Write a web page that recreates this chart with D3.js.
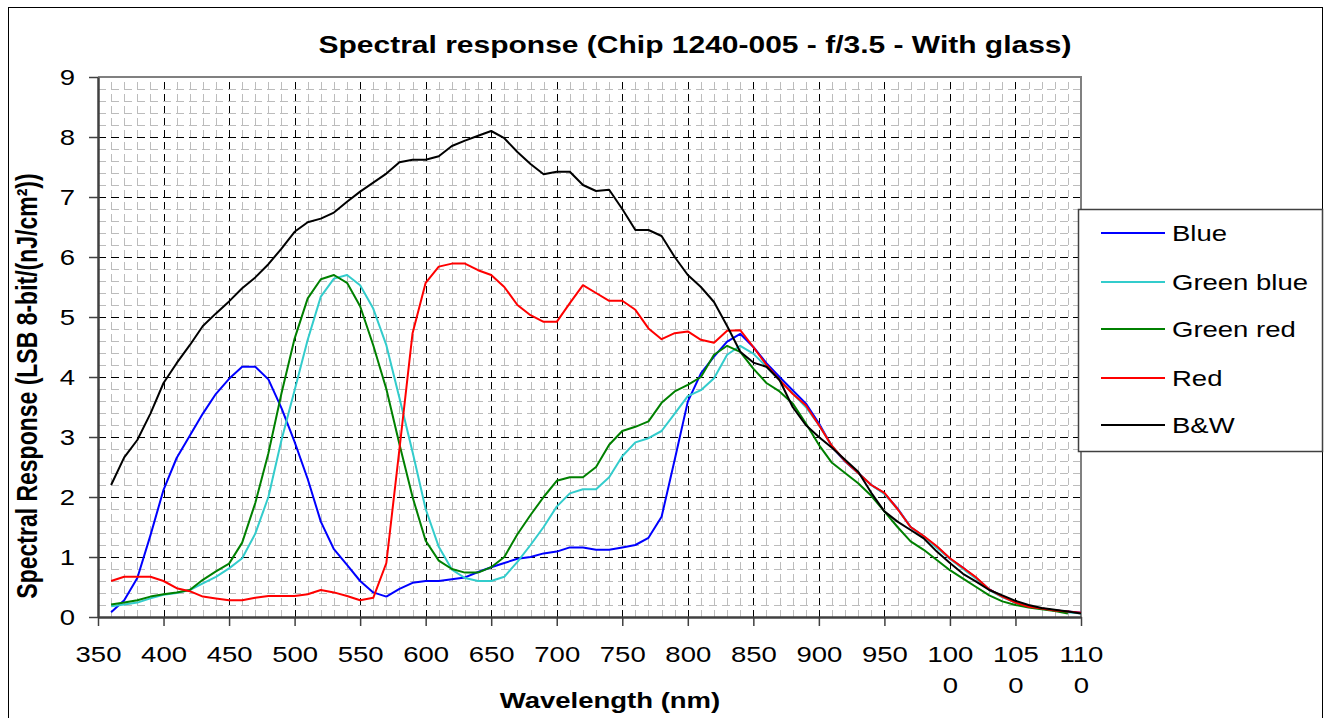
<!DOCTYPE html>
<html>
<head>
<meta charset="utf-8">
<script src="https://cdnjs.cloudflare.com/ajax/libs/d3/7.8.5/d3.min.js"></script>
<style>
  body { margin: 0; background: #fff; }
  text { font-family: "Liberation Sans", Arial, sans-serif; fill: #000; }
</style>
</head>
<body>
<script>
// wavelength (nm) every 10 nm
var wavelengths = [360, 370, 380, 390, 400, 410, 420, 430, 440, 450,
  460, 470, 480, 490, 500, 510, 520, 530, 540, 550,
  560, 570, 580, 590, 600, 610, 620, 630, 640, 650,
  660, 670, 680, 690, 700, 710, 720, 730, 740, 750,
  760, 770, 780, 790, 800, 810, 820, 830, 840, 850,
  860, 870, 880, 890, 900, 910, 920, 930, 940, 950,
  960, 970, 980, 990, 1000, 1010, 1020, 1030, 1040, 1050,
  1060, 1070, 1080, 1090, 1100];

var blue = [0.08, 0.28, 0.65, 1.36, 2.12, 2.65, 3.02, 3.39, 3.72, 3.97,
  4.17, 4.17, 3.96, 3.48, 2.92, 2.3, 1.59, 1.13, 0.87, 0.6,
  0.41, 0.34, 0.47, 0.57, 0.6, 0.6, 0.63, 0.66, 0.75, 0.83,
  0.9, 0.97, 1.0, 1.06, 1.09, 1.16, 1.16, 1.12, 1.12, 1.16,
  1.2, 1.32, 1.67, 2.62, 3.59, 4.06, 4.34, 4.59, 4.72, 4.5,
  4.23, 4.0, 3.78, 3.56, 3.23, 2.84, 2.59, 2.4, 2.2, 2.06,
  1.81, 1.5, 1.34, 1.17, 0.97, 0.82, 0.65, 0.46, 0.34, 0.24,
  0.17, 0.14, 0.11, 0.09, 0.07];

var greenBlue = [0.18, 0.21, 0.24, 0.31, 0.37, 0.4, 0.45, 0.56, 0.67, 0.81,
  0.98, 1.39, 2.0, 2.95, 3.78, 4.62, 5.34, 5.64, 5.7, 5.53,
  5.14, 4.53, 3.65, 2.75, 1.8, 1.17, 0.79, 0.65, 0.6, 0.6,
  0.67, 0.92, 1.2, 1.5, 1.84, 2.06, 2.13, 2.13, 2.33, 2.68,
  2.91, 2.98, 3.1, 3.39, 3.68, 3.78, 3.98, 4.37, 4.52, 4.39,
  4.17, 3.95, 3.73, 3.5, 3.2, 2.85, 2.6, 2.4, 2.2, 2.05,
  1.8, 1.5, 1.34, 1.15, 0.97, 0.8, 0.64, 0.45, 0.33, 0.24,
  0.18, 0.14, 0.11, 0.08, 0.06];

var greenRed = [0.21, 0.24, 0.28, 0.34, 0.38, 0.41, 0.45, 0.62, 0.76, 0.89,
  1.24, 1.9, 2.73, 3.73, 4.64, 5.31, 5.63, 5.7, 5.57, 5.18,
  4.53, 3.8, 2.88, 2.0, 1.27, 0.94, 0.8, 0.74, 0.74, 0.83,
  1.0, 1.38, 1.7, 2.0, 2.27, 2.33, 2.33, 2.5, 2.87, 3.1,
  3.17, 3.26, 3.57, 3.76, 3.87, 4.0, 4.37, 4.52, 4.42, 4.14,
  3.9, 3.76, 3.56, 3.23, 2.87, 2.57, 2.4, 2.23, 2.02, 1.76,
  1.5, 1.26, 1.12, 0.95, 0.78, 0.64, 0.5, 0.36, 0.26, 0.2,
  0.16, 0.13, 0.1, 0.06, null];

var red = [0.6, 0.67, 0.67, 0.67, 0.6, 0.48, 0.43, 0.34, 0.31, 0.28,
  0.28, 0.32, 0.35, 0.35, 0.35, 0.38, 0.45, 0.41, 0.35, 0.28,
  0.32, 0.9, 2.8, 4.73, 5.57, 5.84, 5.89, 5.89, 5.78, 5.7,
  5.5, 5.2, 5.03, 4.92, 4.92, 5.23, 5.53, 5.4, 5.27, 5.27,
  5.12, 4.81, 4.63, 4.73, 4.76, 4.62, 4.57, 4.77, 4.78, 4.5,
  4.2, 3.95, 3.72, 3.53, 3.2, 2.85, 2.6, 2.4, 2.2, 2.07,
  1.8, 1.5, 1.35, 1.18, 0.98, 0.82, 0.66, 0.46, 0.34, 0.24,
  0.17, 0.14, 0.11, 0.09, 0.07];

var bw = [2.2, 2.66, 2.95, 3.39, 3.9, 4.23, 4.53, 4.85, 5.06, 5.26,
  5.48, 5.66, 5.88, 6.14, 6.42, 6.58, 6.64, 6.74, 6.92, 7.09,
  7.24, 7.39, 7.58, 7.62, 7.62, 7.68, 7.85, 7.94, 8.02, 8.1,
  7.98, 7.75, 7.55, 7.38, 7.42, 7.42, 7.2, 7.1, 7.12, 6.8,
  6.45, 6.45, 6.35, 6.0, 5.7, 5.5, 5.25, 4.85, 4.42, 4.24,
  4.17, 3.95, 3.5, 3.2, 3.0, 2.82, 2.62, 2.42, 2.07, 1.76,
  1.59, 1.45, 1.31, 1.09, 0.9, 0.72, 0.59, 0.45, 0.36, 0.27,
  0.2, 0.15, 0.12, 0.09, 0.06];

var seriesNames = ["Blue", "Green blue", "Green red", "Red", "B&W"];
var seriesValues = [blue, greenBlue, greenRed, red, bw];
var seriesColors = ["#0000ff", "#33cccc", "#008000", "#ff0000", "#000000"];

var xTickValues = [350, 400, 450, 500, 550, 600, 650, 700, 750, 800, 850, 900, 950, 1000, 1050, 1100];
var yTickValues = [0, 1, 2, 3, 4, 5, 6, 7, 8, 9];

var titleText = "Spectral response (Chip 1240-005 - f/3.5 - With glass)";
var xTitle = "Wavelength (nm)";
var yTitle = "Spectral Response (LSB 8-bit/(nJ/cm²))";

// the original picture is stretched sideways, text too
var SX = 1.25;

var svg = d3.select("body").append("svg")
  .attr("width", 1326)
  .attr("height", 718);

var x = d3.scaleLinear().domain([350, 1100]).range([98, 1081]);
var y = d3.scaleLinear().domain([0, 9]).range([617, 77]);

// outer chart frame
svg.append("rect")
  .attr("x", 8.5).attr("y", 7.5)
  .attr("width", 1314).attr("height", 730)
  .attr("fill", "none")
  .attr("stroke", "#000")
  .attr("stroke-width", 1);

// minor grid
var minorX = d3.range(360, 1100, 10).filter(function (d) { return d % 50 !== 0; });
var minorY = d3.range(1, 45).map(function (d) { return d / 5; }).filter(function (d, i) { return (i + 1) % 5 !== 0; });

svg.append("g").selectAll("line")
  .data(minorX).enter().append("line")
  .attr("x1", function (d) { return Math.round(x(d)) + 0.5; })
  .attr("x2", function (d) { return Math.round(x(d)) + 0.5; })
  .attr("y1", y(0)).attr("y2", y(9))
  .attr("stroke", "#bcbcbc")
  .attr("stroke-dasharray", "7,5");

svg.append("g").selectAll("line")
  .data(minorY).enter().append("line")
  .attr("y1", function (d) { return Math.round(y(d)) + 0.5; })
  .attr("y2", function (d) { return Math.round(y(d)) + 0.5; })
  .attr("x1", x(350)).attr("x2", x(1100))
  .attr("stroke", "#bcbcbc")
  .attr("stroke-dasharray", "8,5");

// major grid
svg.append("g").selectAll("line")
  .data(xTickValues.slice(1, -1)).enter().append("line")
  .attr("x1", function (d) { return Math.round(x(d)) + 0.5; })
  .attr("x2", function (d) { return Math.round(x(d)) + 0.5; })
  .attr("y1", y(0)).attr("y2", y(9))
  .attr("stroke", "#000")
  .attr("stroke-dasharray", "7,5");

svg.append("g").selectAll("line")
  .data(yTickValues.slice(1, -1)).enter().append("line")
  .attr("y1", function (d) { return Math.round(y(d)) + 0.5; })
  .attr("y2", function (d) { return Math.round(y(d)) + 0.5; })
  .attr("x1", x(350)).attr("x2", x(1100))
  .attr("stroke", "#000")
  .attr("stroke-dasharray", "8,5");

// top and right plot border
svg.append("path")
  .attr("d", "M" + x(350) + "," + y(9) + "H" + x(1100) + "V" + y(0))
  .attr("fill", "none")
  .attr("stroke", "#808080")
  .attr("stroke-width", 2);

// axes
var xAxis = d3.axisBottom(x).tickValues(xTickValues).tickSize(9).tickSizeOuter(0).tickFormat(d3.format("d"));
var yAxis = d3.axisLeft(y).tickValues(yTickValues).tickSize(9).tickSizeOuter(0).tickFormat(d3.format("d"));

var gx = svg.append("g").attr("transform", "translate(0," + y(0) + ")").call(xAxis);
var gy = svg.append("g").attr("transform", "translate(" + x(350) + ",0)").call(yAxis);

[gx, gy].forEach(function (g) {
  g.select(".domain").attr("stroke", "#404040").attr("stroke-width", 2.5);
  g.selectAll(".tick line").attr("stroke", "#404040").attr("stroke-width", 1.5);
  g.selectAll(".tick text")
    .attr("font-family", "Liberation Sans, Arial, sans-serif")
    .attr("font-size", 22)
    .attr("fill", "#000");
});

gx.selectAll(".tick text")
  .attr("y", 0).attr("dy", null)
  .attr("transform", "translate(0,45) scale(" + SX + ",1)")
  .each(function (d) {
    var s = String(d);
    var t = d3.select(this);
    if (s.length > 3) {
      t.text(null);
      t.append("tspan").attr("x", 0).attr("dy", 0).text(s.slice(0, 3));
      t.append("tspan").attr("x", 0).attr("dy", 31).text(s.slice(3));
    }
  });

gy.selectAll(".tick text")
  .attr("x", 0).attr("dy", "0.36em")
  .attr("transform", "translate(-23,0) scale(" + SX + ",1)");

// series lines
var line = d3.line()
  .defined(function (d) { return d[1] !== null; })
  .x(function (d) { return x(d[0]); })
  .y(function (d) { return y(d[1]); });

seriesValues.forEach(function (vals, i) {
  var pts = wavelengths.map(function (w, j) { return [w, vals[j]]; });
  svg.append("path")
    .datum(pts)
    .attr("d", line)
    .attr("fill", "none")
    .attr("stroke", seriesColors[i])
    .attr("stroke-width", 2)
    .attr("stroke-linejoin", "round");
});

// legend
var legend = svg.append("g");
legend.append("rect")
  .attr("x", 1078.5).attr("y", 209.5)
  .attr("width", 244).attr("height", 242)
  .attr("fill", "#fff")
  .attr("stroke", "#404040")
  .attr("stroke-width", 1.5);

var rowY = [233, 282, 329, 378, 425];
seriesNames.forEach(function (name, i) {
  legend.append("line")
    .attr("x1", 1101).attr("x2", 1165)
    .attr("y1", rowY[i]).attr("y2", rowY[i])
    .attr("stroke", seriesColors[i])
    .attr("stroke-width", 2);
  legend.append("text")
    .attr("transform", "translate(1172," + rowY[i] + ") scale(" + SX + ",1)")
    .attr("dy", "0.36em")
    .attr("font-size", 22)
    .text(name);
});

// titles
svg.append("text")
  .attr("transform", "translate(695,53) scale(" + SX + ",1)")
  .attr("text-anchor", "middle")
  .attr("font-size", 24)
  .attr("font-weight", "bold")
  .text(titleText);

svg.append("text")
  .attr("transform", "translate(610,708) scale(" + SX + ",1)")
  .attr("text-anchor", "middle")
  .attr("font-size", 22)
  .attr("font-weight", "bold")
  .text(xTitle);

svg.append("text")
  .attr("transform", "translate(37,386) scale(" + SX + ",1) rotate(-90)")
  .attr("text-anchor", "middle")
  .attr("font-size", 23)
  .attr("font-weight", "bold")
  .text(yTitle);
</script>
</body>
</html>
